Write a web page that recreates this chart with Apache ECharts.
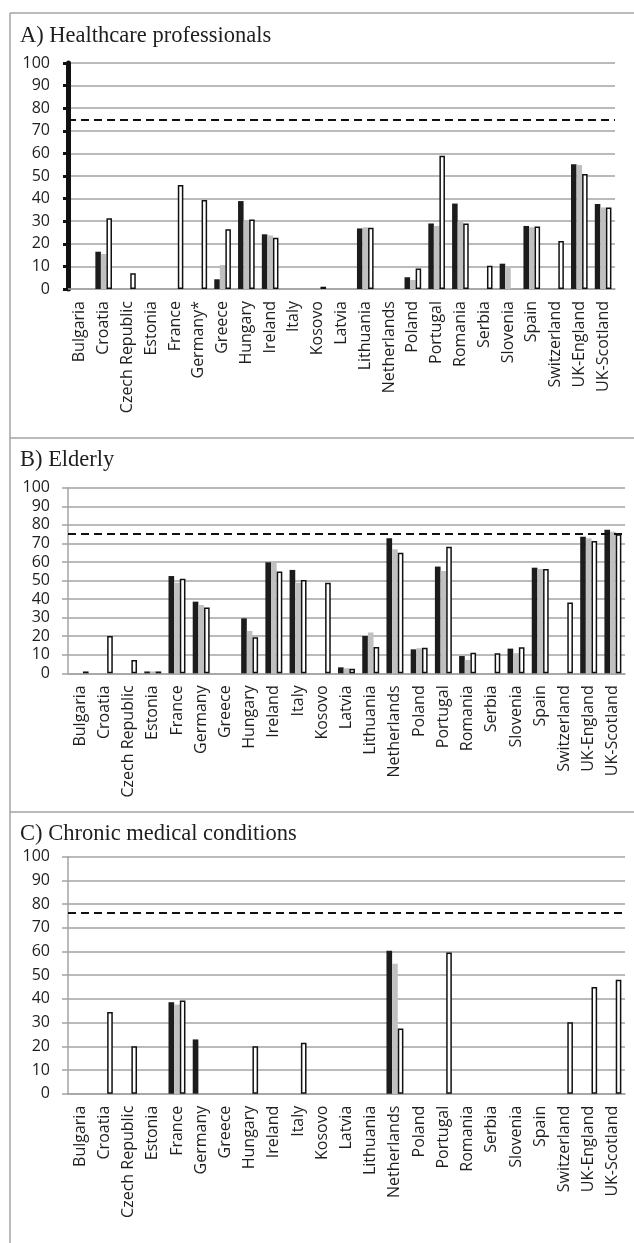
<!DOCTYPE html>
<html>
<head>
<meta charset="utf-8">
<script src="https://cdn.jsdelivr.net/npm/echarts@6/dist/echarts.min.js"></script>
<style>
html,body{margin:0;padding:0;background:#fff;}
#chart{width:634px;height:1243px;}
</style>
</head>
<body>
<div id="chart"></div>
<script>
// ---- Data ----
const categoriesA = ["Bulgaria","Croatia","Czech Republic","Estonia","France","Germany*","Greece","Hungary","Ireland","Italy","Kosovo","Latvia","Lithuania","Netherlands","Poland","Portugal","Romania","Serbia","Slovenia","Spain","Switzerland","UK-England","UK-Scotland"];
const categoriesBC = ["Bulgaria","Croatia","Czech Republic","Estonia","France","Germany","Greece","Hungary","Ireland","Italy","Kosovo","Latvia","Lithuania","Netherlands","Poland","Portugal","Romania","Serbia","Slovenia","Spain","Switzerland","UK-England","UK-Scotland"];
const yTicks = [0,10,20,30,40,50,60,70,80,90,100];

const titleA = "A) Healthcare professionals";
const titleB = "B) Elderly";
const titleC = "C) Chronic medical conditions";

// Panel A – Healthcare professionals
const hcpSeries1 = [null,16.5,null,null,null,null,4.3,38.9,24.2,null,null,null,26.8,null,5.2,29,37.8,null,11.2,27.9,null,55.2,37.6];
const hcpSeries2 = [null,15.5,null,null,null,null,10.6,30.5,23.7,null,null,null,27.3,null,4,27.9,29.8,null,10,27.3,null,54.9,36.1];
const hcpSeries3 = [null,31.3,7,null,46,39.4,26.4,30.8,22.7,null,1,null,27.1,null,9.1,59,29,10.3,null,27.6,21.2,50.9,36.1];
const hcpTarget = 75;

// Panel B – Elderly
const eldSeries1 = [null,null,null,1,52.4,38.6,null,29.6,59.8,55.7,null,3.2,20.1,72.7,12.9,57.5,9.3,null,13.3,56.9,null,73.6,77.4];
const eldSeries2 = [null,null,null,1,48.8,36.8,null,22.8,60,48.8,null,2.7,22,66.8,13.5,55.1,7.2,null,10.8,56.2,null,72.7,76.3];
const eldSeries3 = [1,20.1,7.2,1,51,35.5,null,19.4,54.8,50.3,48.8,2.5,14.2,65,13.8,68.2,11.1,10.8,14,56.2,38.2,71.3,74.9];
const eldTarget = 75;

// Panel C – Chronic medical conditions
const cmcSeries1 = [null,null,null,null,38.6,22.9,null,null,null,null,null,null,null,60.3,null,null,null,null,null,null,null,null,null];
const cmcSeries2 = [null,null,null,null,37.6,null,null,null,null,null,null,null,null,54.8,null,null,null,null,null,null,null,null,null];
const cmcSeries3 = [null,34.5,20,null,39.3,null,null,20,null,21.5,null,null,null,27.5,null,59.6,null,null,null,null,30.1,45,48.1];
const cmcTarget = 76.5;

// ---- Styles ----
const GRID = '#a3a3a3';
const TXT = '#1e1e1e';
const FONT = 'Open Sans';

const chart = echarts.init(document.getElementById('chart'), null, {renderer:'canvas', width:634, height:1243});

function yAxis(idx, black){
  return {
    type:'value', gridIndex:idx, min:yTicks[0], max:yTicks[yTicks.length-1], interval:yTicks[1]-yTicks[0],
    axisLine:{show:true, lineStyle:{color: black ? '#111' : GRID, width: black ? 5 : 1.5}},
    axisTick:{show:true, length: black ? 5 : 6, lineStyle:{color: black ? '#111' : GRID, width: black ? 3 : 1.5}},
    axisLabel:{margin:18, fontFamily:FONT, fontSize:16, color:TXT},
    splitLine:{show:true, lineStyle:{color:GRID, width:1.5}}
  };
}
function xAxis(idx, cats){
  return {
    type:'category', gridIndex:idx, data:cats,
    axisLine:{show:true, lineStyle:{color:GRID, width:1.5}},
    axisTick:{show:false},
    axisLabel:{rotate:90, margin:12, interval:0, fontFamily:FONT, fontSize:16, color:TXT},
    splitLine:{show:false}
  };
}
const GAP = '30%';
function bars(idx, d1, d2, d3, target){
  const base = {type:'bar', xAxisIndex:idx, yAxisIndex:idx, barGap:'0%', barCategoryGap:GAP, silent:true};
  return [
    Object.assign({}, base, {name:'Series 1', data:d1, itemStyle:{color:'#1c1c1c'}}),
    Object.assign({}, base, {name:'Series 2', data:d2, itemStyle:{color:'#c0c0c0'}}),
    Object.assign({}, base, {name:'Series 3', data:d3, itemStyle:{color:'#ffffff', borderColor:'#111', borderWidth:1.5},
      markLine:{silent:true, symbol:['none','none'], label:{show:false},
        lineStyle:{color:'#111', type:[8,5], width:2},
        data:[{yAxis:target}]}})
  ];
}
const titleStyle = {fontFamily:'Liberation Serif', fontSize:22.5, fontWeight:'normal', color:TXT};

const option = {
  animation:false,
  backgroundColor:'#fff',
  title:[
    {text:titleA, left:15, top:20, textStyle:titleStyle},
    {text:titleB, left:15, top:444, textStyle:titleStyle},
    {text:titleC, left:15, top:818, textStyle:titleStyle}
  ],
  grid:[
    {left:68, top:63, width:547, height:226},
    {left:68, top:487.7, width:557, height:185.6},
    {left:68, top:856.7, width:557, height:237}
  ],
  xAxis:[xAxis(0,categoriesA), xAxis(1,categoriesBC), xAxis(2,categoriesBC)],
  yAxis:[yAxis(0,true), yAxis(1,false), yAxis(2,false)],
  series:[].concat(
    bars(0,hcpSeries1,hcpSeries2,hcpSeries3,hcpTarget),
    bars(1,eldSeries1,eldSeries2,eldSeries3,eldTarget),
    bars(2,cmcSeries1,cmcSeries2,cmcSeries3,cmcTarget)
  ),
  graphic:[
    {type:'line', shape:{x1:10, y1:13, x2:10, y2:1243}, style:{stroke:GRID, lineWidth:1.5}, silent:true},
    {type:'line', shape:{x1:10, y1:13, x2:634, y2:13}, style:{stroke:GRID, lineWidth:1.5}, silent:true},
    {type:'line', shape:{x1:10, y1:438, x2:634, y2:438}, style:{stroke:GRID, lineWidth:1.5}, silent:true},
    {type:'line', shape:{x1:10, y1:812, x2:634, y2:812}, style:{stroke:GRID, lineWidth:1.5}, silent:true}
  ]
};
chart.setOption(option);
</script>
</body>
</html>
